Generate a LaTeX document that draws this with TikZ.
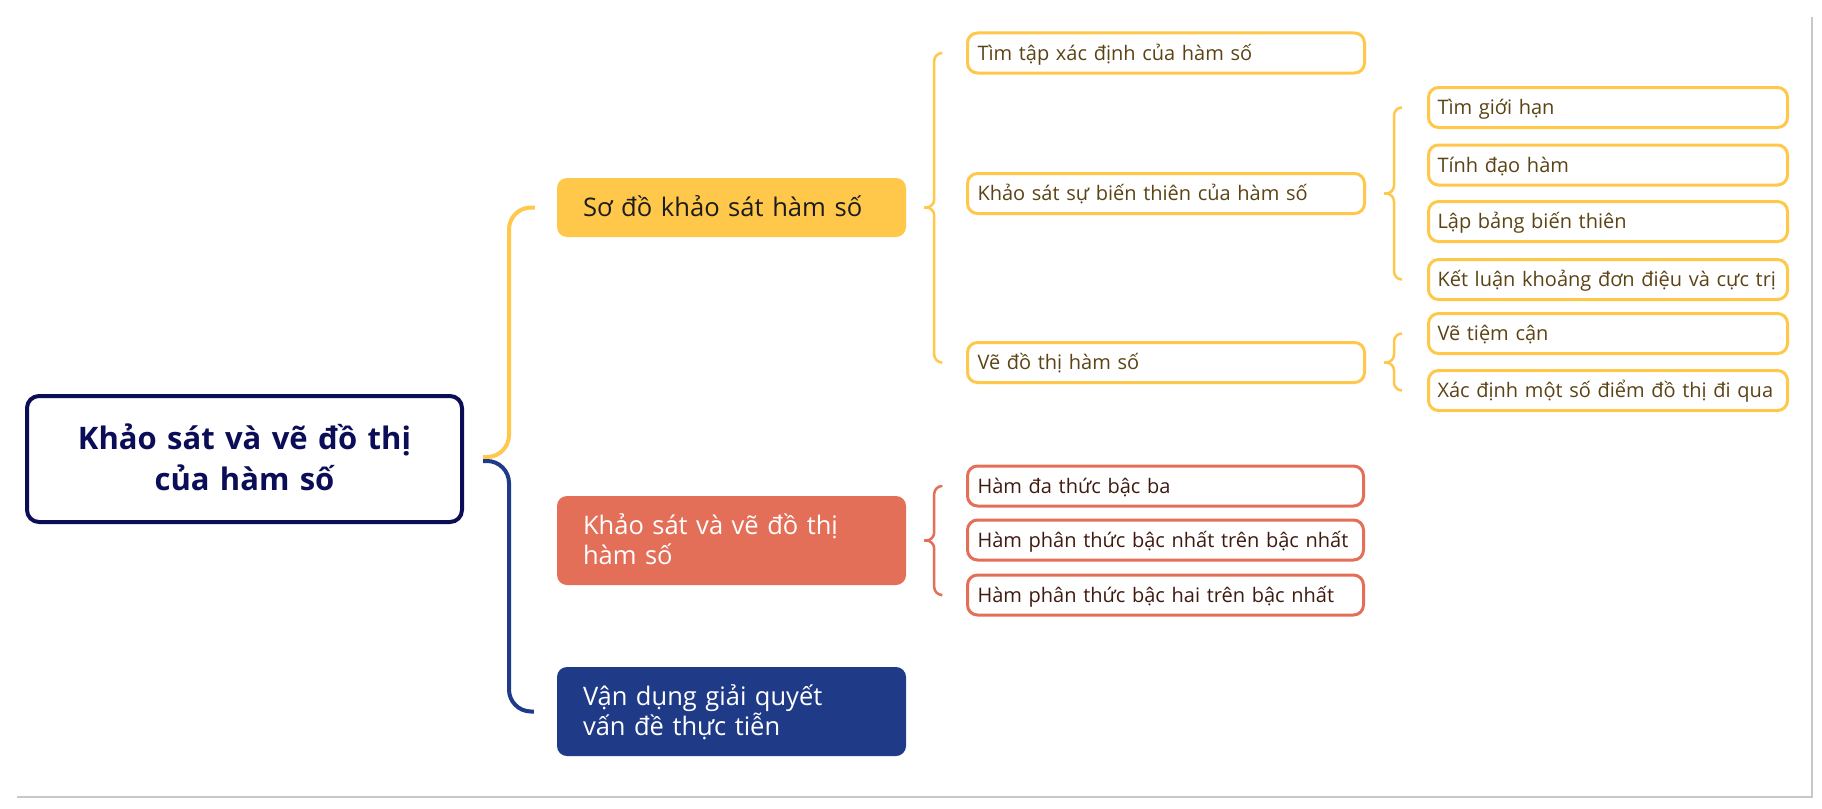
\documentclass[tikz,border=0pt]{standalone}
\usepackage{fontspec}
\setmainfont{Open Sans}
\usetikzlibrary{calc}
\definecolor{myyellow}{HTML}{FFC84B}
\definecolor{myred}{HTML}{E46F59}
\definecolor{mynavy}{HTML}{1F3B87}
\definecolor{rootc}{HTML}{0B0E57}
\definecolor{ytext}{HTML}{5C4315}
\definecolor{rtext}{HTML}{3F1A10}
\definecolor{stext}{HTML}{1C1C1C}
\definecolor{framec}{HTML}{C8C8C8}
\newcommand\mybrace[4]{%
  \draw[brk, #1] ([xshift=-25pt]#3.west) -| ($(#2.east)+(28pt,0)$) -- ([xshift=18pt]#2.east);
  \draw[brk, #1] ([xshift=18pt]#2.east) -- ($(#2.east)+(28pt,0)$) |- ([xshift=-25pt]#4.west);
}
\begin{document}
\begin{tikzpicture}[x=1pt,y=-1pt,
  rootbox/.style={draw=rootc, line width=4pt, fill=white, rounded corners=12pt,
    minimum width=435pt, minimum height=126pt, text width=415pt, inner xsep=10pt, inner ysep=0pt,
    align=center, text=rootc, font=\fontsize{31pt}{41pt}\selectfont\bfseries,
    text height=22.1pt, text depth=41pt},
  mainbox/.style={rounded corners=10pt, minimum width=349pt, text width=297pt,
    inner xsep=26pt, inner ysep=0pt, align=left},
  sodobox/.style={mainbox, fill=myyellow, minimum height=59pt, text=stext,
    font=\fontsize{25.6pt}{30pt}\selectfont, text height=18.3pt, text depth=0pt},
  twobox/.style={mainbox, minimum height=89pt, text=white,
    font=\fontsize{25.5pt}{30pt}\selectfont, text height=18.2pt, text depth=30pt},
  leaf/.style={line width=3pt, fill=white, rounded corners=10pt, minimum height=40pt,
    inner ysep=0pt, align=left, font=\fontsize{20pt}{25pt}\selectfont,
    text height=14.3pt, text depth=0pt},
  ybox/.style={leaf, draw=myyellow, text=ytext, text width=377pt, inner xsep=10pt},
  cbox/.style={leaf, draw=myyellow, text=ytext, text width=341pt, inner xsep=9pt},
  rbox/.style={leaf, draw=myred, text=rtext, text width=376pt, inner xsep=10pt},
  conn/.style={line width=4pt, rounded corners=22pt},
  brk/.style={line width=2.5pt, rounded corners=8pt},
]
\useasboundingbox (0,0) rectangle (1822,808);
\fill[white] (0,0) rectangle (1822,808);
\draw[framec, line width=1.5pt] (17,797) -- (1812,797) -- (1812,17);

% root
\node[rootbox] (root) at (244.5,459) {Khảo sát và vẽ đồ thị\\của hàm số};

% main branches
\node[sodobox] (sodo) at (731.5,207.5) {Sơ đồ khảo sát hàm số};
\node[twobox, fill=myred] (ks) at (731.5,540.5) {Khảo sát và vẽ đồ thị\\hàm số};
\node[twobox, fill=mynavy] (vd) at (731.5,711.5) {Vận dụng giải quyết\\vấn đề thực tiễn};

% level 2 (yellow)
\node[ybox] (b1) at (1166,53) {Tìm tập xác định của hàm số};
\node[ybox] (b2) at (1166,193.5) {Khảo sát sự biến thiên của hàm số};
\node[ybox] (b3) at (1166,362.5) {Vẽ đồ thị hàm số};

% level 3
\node[cbox] (c1) at (1608,107.5) {Tìm giới hạn};
\node[cbox] (c2) at (1608,165) {Tính đạo hàm};
\node[cbox] (c3) at (1608,221.5) {Lập bảng biến thiên};
\node[cbox] (c4) at (1608,279.5) {Kết luận khoảng đơn điệu và cực trị};
\node[cbox] (c5) at (1608,333.5) {Vẽ tiệm cận};
\node[cbox] (c6) at (1608,390.5) {Xác định một số điểm đồ thị đi qua};

% level 2 (red)
\node[rbox] (r1) at (1165.5,486) {Hàm đa thức bậc ba};
\node[rbox] (r2) at (1165.5,540) {Hàm phân thức bậc nhất trên bậc nhất};
\node[rbox] (r3) at (1165.5,595) {Hàm phân thức bậc hai trên bậc nhất};

% connectors from root
\coordinate (trunk) at (509,459);
\draw[conn, myyellow] ([shift={(19pt,2pt)}]root.east) -| (trunk |- sodo.west) -- ([xshift=-22pt]sodo.west);
\draw[conn, mynavy] ([shift={(19pt,-2pt)}]root.east) -| (trunk |- vd.west) -- ([xshift=-23pt]vd.west);

% brackets
\mybrace{myyellow}{sodo}{b1}{b3}
\mybrace{myyellow}{b2}{c1}{c4}
\mybrace{myyellow}{b3}{c5}{c6}
\mybrace{myred}{ks}{r1}{r3}
\end{tikzpicture}
\end{document}
